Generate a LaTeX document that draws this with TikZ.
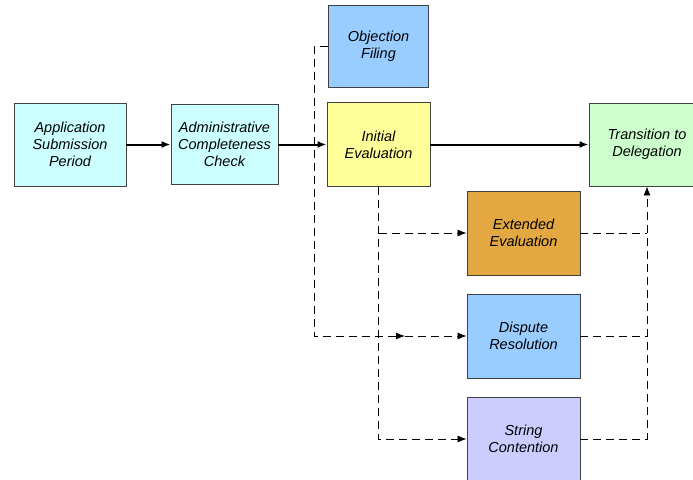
\documentclass[tikz,border=0pt]{standalone}
\usepackage{fontspec}
\setmainfont{Liberation Sans}
\usetikzlibrary{shapes,arrows.meta}
\definecolor{cyanbox}{HTML}{CCFFFF}
\definecolor{bluebox}{HTML}{99CCFF}
\definecolor{yellowbox}{HTML}{FFFF99}
\definecolor{greenbox}{HTML}{CCFFCC}
\definecolor{orangebox}{HTML}{E3A842}
\definecolor{violetbox}{HTML}{CCCCFF}
\tikzstyle{block} = [draw=black!75, line width=0.9pt, rectangle, align=center,
    minimum height=83pt, minimum width=112pt,
    font=\fontsize{14.5}{17}\selectfont\itshape]
\tikzstyle{flow} = [->, line width=2pt]
\tikzstyle{dline} = [line width=0.8pt, dash pattern=on 8pt off 5pt]
\tikzstyle{dflow} = [dline, ->]

\begin{document}
\begin{tikzpicture}[x=1pt, y=-1pt, node distance=154pt,
    >={Latex[length=9pt,width=7pt]}]
    \useasboundingbox (0,0) rectangle (693,479);
    % main row of blocks
    \node [block, fill=cyanbox] (app) at (70,144.5)
        {Application\\Submission\\Period};
    \node [block, fill=cyanbox, right of=app, node distance=154.5pt,
        minimum width=107pt, minimum height=80pt] (admin)
        {Administrative\\Completeness\\Check};
    \node [block, fill=yellowbox, right of=admin,
        minimum width=103pt, minimum height=84pt] (initial)
        {Initial\\Evaluation};
    \node [block, fill=greenbox, right of=initial, node distance=268.5pt,
        minimum width=116pt] (deleg) {Transition to\\Delegation};
    \node [block, fill=bluebox, above of=initial, node distance=98pt,
        minimum width=100pt, minimum height=82pt] (objection)
        {Objection\\Filing};
    % side branches
    \node [block, fill=orangebox, minimum width=113pt, minimum height=84pt]
        (extended) at (523.5,233) {Extended\\Evaluation};
    \node [block, fill=bluebox, below of=extended, node distance=103pt,
        minimum width=113pt, minimum height=84pt] (dispute)
        {Dispute\\Resolution};
    \node [block, fill=violetbox, below of=dispute, node distance=103pt,
        minimum width=113pt, minimum height=84pt] (string)
        {String\\Contention};

    % solid flow along the main row
    \draw [flow] (app) -- (admin);
    \draw [flow] (admin) -- (initial);
    \draw [flow] (initial) -- (deleg);

    % dashed branches out of the initial evaluation
    \draw [dflow] (initial.south) |- (string);
    \draw [dflow] (initial.south |- extended) -- (extended);
    \coordinate (mid) at (405,336);
    \draw [dflow] (objection.west) -- ++(-14,0) |- (mid);
    \draw [dflow] (mid) -- (dispute);

    % back into the delegation
    \draw [dline] (extended) -- (extended -| deleg);
    \draw [dline] (dispute) -- (dispute -| deleg);
    \draw [dflow] (string) -| (deleg);
\end{tikzpicture}
\end{document}
